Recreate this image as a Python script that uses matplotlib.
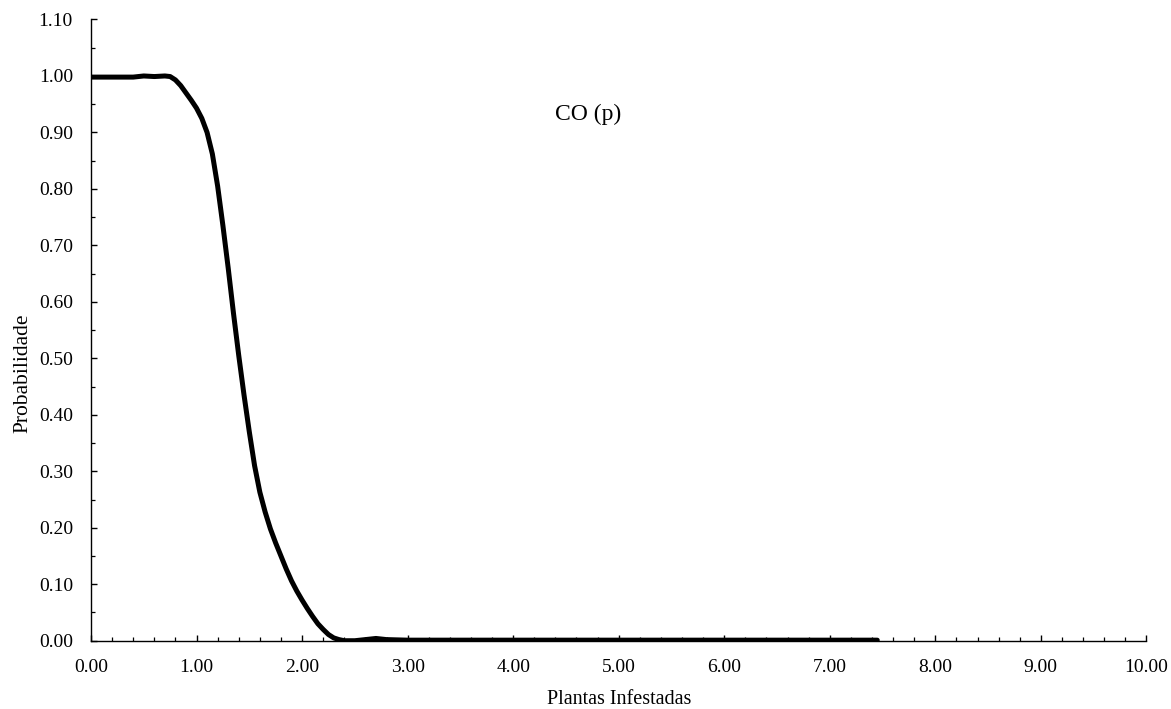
import numpy as np
from matplotlib import pyplot as plt
from matplotlib.ticker import MultipleLocator, FormatStrFormatter

plt.rcParams['font.family'] = ['Liberation Serif', 'DejaVu Serif']

# Curva CO(p)
plantas = np.array([0, 0.2, 0.4, 0.5, 0.6, 0.7, 0.75, 0.8, 0.85, 0.9, 0.95, 1.0, 1.05,
                    1.1, 1.15, 1.2, 1.25, 1.3, 1.35, 1.4, 1.45, 1.5, 1.55, 1.6, 1.65,
                    1.7, 1.75, 1.8, 1.85, 1.9, 1.95, 2.0, 2.05, 2.1, 2.15, 2.2, 2.25,
                    2.3, 2.35, 2.4, 2.5, 2.6, 2.7, 2.8, 3.0, 4.0, 5.0, 6.0, 7.0, 7.45])
prob = np.array([0.998, 0.998, 0.998, 1.0, 0.999, 1.0, 0.999, 0.993, 0.983, 0.97,
                 0.957, 0.943, 0.925, 0.900, 0.862, 0.805, 0.735, 0.66, 0.58, 0.505,
                 0.435, 0.37, 0.31, 0.263, 0.228, 0.198, 0.173, 0.150, 0.127, 0.106,
                 0.088, 0.072, 0.057, 0.043, 0.030, 0.020, 0.011, 0.005, 0.002, 0.0,
                 0.0, 0.002, 0.004, 0.002, 0.001, 0.001, 0.001, 0.001, 0.001, 0.001])

fig = plt.figure(figsize=(11.71, 7.09), dpi=100)
ax = fig.add_axes([0.0777, 0.0963, 0.9013, 0.8762])
ax.plot(plantas, prob, '-', color='black', lw=3.6, solid_capstyle='round',
        solid_joinstyle='round')

ax.set_xlim(0, 10)
ax.set_ylim(0, 1.10)
ax.xaxis.set_major_locator(MultipleLocator(1))
ax.xaxis.set_minor_locator(MultipleLocator(0.2))
ax.yaxis.set_major_locator(MultipleLocator(0.1))
ax.yaxis.set_minor_locator(MultipleLocator(0.05))
ax.xaxis.set_major_formatter(FormatStrFormatter('%.2f'))
ax.yaxis.set_major_formatter(FormatStrFormatter('%.2f'))
ax.tick_params(which='major', direction='in', length=4.5, width=1, labelsize=14, pad=13)
ax.tick_params(which='minor', direction='in', length=3, width=0.9)
for s in ['top', 'right']:
    ax.spines[s].set_visible(False)
for s in ['left', 'bottom']:
    ax.spines[s].set_linewidth(1)

ax.set_xlabel('Plantas Infestadas', fontsize=14.5)
ax.set_ylabel('Probabilidade', fontsize=15.5)
ax.xaxis.set_label_coords(0.5, -0.080)
ax.yaxis.set_label_coords(-0.0554, 0.431)
ax.text(4.71, 0.922, 'CO (p)', fontsize=17, ha='center', va='baseline')

plt.savefig('out.png', dpi=100)
